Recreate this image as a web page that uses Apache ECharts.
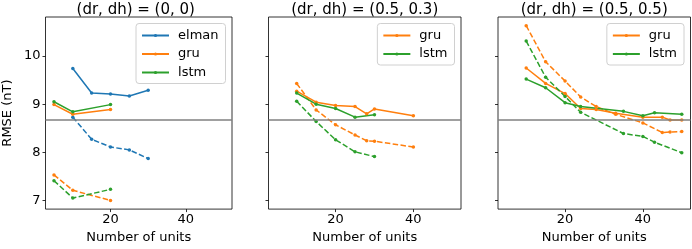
<!DOCTYPE html>
<html>
<head>
<meta charset="utf-8">
<script src="https://cdn.jsdelivr.net/npm/echarts@6/dist/echarts.min.js"></script>
<style>
  html, body { margin: 0; padding: 0; background: #fff; }
  #chart { width: 692px; height: 249px; }
</style>
</head>
<body>
<div id="chart"></div>
<script>
// 各子图标题
const panelTitles = ['(dr, dh) = (0, 0)', '(dr, dh) = (0.5, 0.3)', '(dr, dh) = (0.5, 0.5)'];
const xTicks = [20, 40];
const yTicks = [7, 8, 9, 10];
const refLine = 8.67; // 灰色水平参考线

// 子图1 (0, 0)
const p1ElmanX = [10, 15, 20, 25, 30];
const p1ElmanSolid = [9.74, 9.23, 9.21, 9.17, 9.29];
const p1ElmanDash = [8.73, 8.27, 8.11, 8.05, 7.87];
const p1GruX = [5, 10, 20];
const p1GruSolid = [8.99, 8.79, 8.89];
const p1GruDash = [7.53, 7.21, 7.00];
const p1LstmX = [5, 10, 20];
const p1LstmSolid = [9.05, 8.84, 8.99];
const p1LstmDash = [7.41, 7.05, 7.23];

// 子图2 (0.5, 0.3)
const p2GruX = [10, 15, 20, 25, 28, 30, 40];
const p2GruSolid = [9.27, 9.04, 8.97, 8.95, 8.80, 8.90, 8.76];
const p2GruDash = [9.43, 8.88, 8.57, 8.36, 8.24, 8.23, 8.11];
const p2LstmX = [10, 15, 20, 25, 30];
const p2LstmSolid = [9.23, 9.00, 8.91, 8.73, 8.78];
const p2LstmDash = [9.06, 8.64, 8.26, 8.01, 7.91];

// 子图3 (0.5, 0.5)
const p3GruX = [10, 15, 20, 24, 28, 33, 40, 45, 47, 50];
const p3GruSolid = [9.75, 9.43, 9.22, 8.91, 8.89, 8.81, 8.73, 8.73, 8.67, 8.67];
const p3GruDash = [10.63, 9.88, 9.48, 9.15, 8.95, 8.79, 8.61, 8.41, 8.42, 8.43];
const p3LstmX = [10, 15, 20, 24, 35, 40, 43, 50];
const p3LstmSolid = [9.52, 9.34, 9.03, 8.95, 8.85, 8.76, 8.82, 8.79];
const p3LstmDash = [10.31, 9.56, 9.16, 8.83, 8.39, 8.33, 8.21, 7.99];

const colors = { elman: '#1f77b4', gru: '#ff7f0e', lstm: '#2ca02c' };
const font = 'DejaVu Sans';

const grids = [
    { left: 39.5, top: 17, width: 192.5, height: 199 },
    { left: 268.5, top: 17, width: 192.5, height: 199 },
    { left: 498, top: 17, width: 192.5, height: 199 }
];

function makeSeries(name, idx, xs, ys, dashed) {
    return {
        name: dashed ? name + '-dash' : name,
        type: 'line',
        xAxisIndex: idx,
        yAxisIndex: idx,
        data: xs.map((x, i) => [x, ys[i]]),
        symbol: 'circle',
        symbolSize: 3.5,
        showSymbol: true,
        color: colors[name],
        lineStyle: { width: 1.5, type: dashed ? [5.5, 2.4] : 'solid' },
        animation: false,
        silent: true
    };
}

const series = [
    makeSeries('elman', 0, p1ElmanX, p1ElmanSolid, false),
    makeSeries('elman', 0, p1ElmanX, p1ElmanDash, true),
    makeSeries('gru', 0, p1GruX, p1GruSolid, false),
    makeSeries('gru', 0, p1GruX, p1GruDash, true),
    makeSeries('lstm', 0, p1LstmX, p1LstmSolid, false),
    makeSeries('lstm', 0, p1LstmX, p1LstmDash, true),
    makeSeries('gru', 1, p2GruX, p2GruSolid, false),
    makeSeries('gru', 1, p2GruX, p2GruDash, true),
    makeSeries('lstm', 1, p2LstmX, p2LstmSolid, false),
    makeSeries('lstm', 1, p2LstmX, p2LstmDash, true),
    makeSeries('gru', 2, p3GruX, p3GruSolid, false),
    makeSeries('gru', 2, p3GruX, p3GruDash, true),
    makeSeries('lstm', 2, p3LstmX, p3LstmSolid, false),
    makeSeries('lstm', 2, p3LstmX, p3LstmDash, true)
];

// 参考线（每个子图一条）
[0, 1, 2].forEach(i => {
    series.push({
        type: 'line',
        xAxisIndex: i,
        yAxisIndex: i,
        data: [],
        silent: true,
        markLine: {
            symbol: 'none',
            silent: true,
            animation: false,
            label: { show: false },
            lineStyle: { color: '#808080', width: 1.5, type: 'solid' },
            data: [{ yAxis: refLine }]
        }
    });
});

function makeLegend(names, right) {
    return {
        data: names,
        orient: 'vertical',
        right: right,
        top: 23.5,
        padding: [5, 7, 4, 5],
        itemWidth: 27,
        itemHeight: 4,
        itemGap: 4.5,
        backgroundColor: '#fff',
        borderColor: '#d0d0d0',
        borderWidth: 1,
        borderRadius: 3,
        selectedMode: false,
        textStyle: { fontFamily: font, fontSize: 13, color: '#000', padding: [0, 0, 0, 4], lineHeight: 14 }
    };
}

const option = {
    backgroundColor: '#fff',
    animation: false,
    title: grids.map((g, i) => ({
        text: panelTitles[i],
        left: g.left + g.width / 2,
        top: 2,
        padding: 0,
        textAlign: 'center',
        textStyle: { fontFamily: font, fontSize: 15, fontWeight: 'normal', color: '#000', lineHeight: 16 }
    })),
    legend: [
        makeLegend(['elman', 'gru', 'lstm'], 692 - 225.5),
        makeLegend(['gru', 'lstm'], 692 - 454.5),
        makeLegend(['gru', 'lstm'], 692 - 684)
    ],
    grid: grids.map(g => ({ ...g, show: true, borderColor: '#000', borderWidth: 0.8, backgroundColor: 'transparent' })),
    xAxis: grids.map((g, i) => ({
        type: 'value',
        gridIndex: i,
        min: 2.75,
        max: 52.25,
        name: 'Number of units',
        nameLocation: 'middle',
        nameGap: 13,
        nameTextStyle: { fontFamily: font, fontSize: 13, color: '#000' },
        axisLine: { show: false },
        axisTick: { show: true, length: 3, customValues: xTicks, lineStyle: { color: '#000', width: 0.8 } },
        axisLabel: { customValues: xTicks, margin: 4, fontFamily: font, fontSize: 13, color: '#000' },
        splitLine: { show: false }
    })),
    yAxis: grids.map((g, i) => ({
        type: 'value',
        gridIndex: i,
        min: 6.82,
        max: 10.81,
        name: i === 0 ? 'RMSE (nT)' : '',
        nameLocation: 'middle',
        nameGap: 31.5,
        nameTextStyle: { fontFamily: font, fontSize: 13, color: '#000' },
        axisLine: { show: false },
        axisTick: { show: true, length: 3, customValues: yTicks, lineStyle: { color: '#000', width: 0.8 } },
        axisLabel: { show: i === 0, customValues: yTicks, margin: 5, fontFamily: font, fontSize: 13, color: '#000' },
        splitLine: { show: false }
    })),
    series: series
};

const chart = echarts.init(document.getElementById('chart'));
chart.setOption(option);
</script>
</body>
</html>
